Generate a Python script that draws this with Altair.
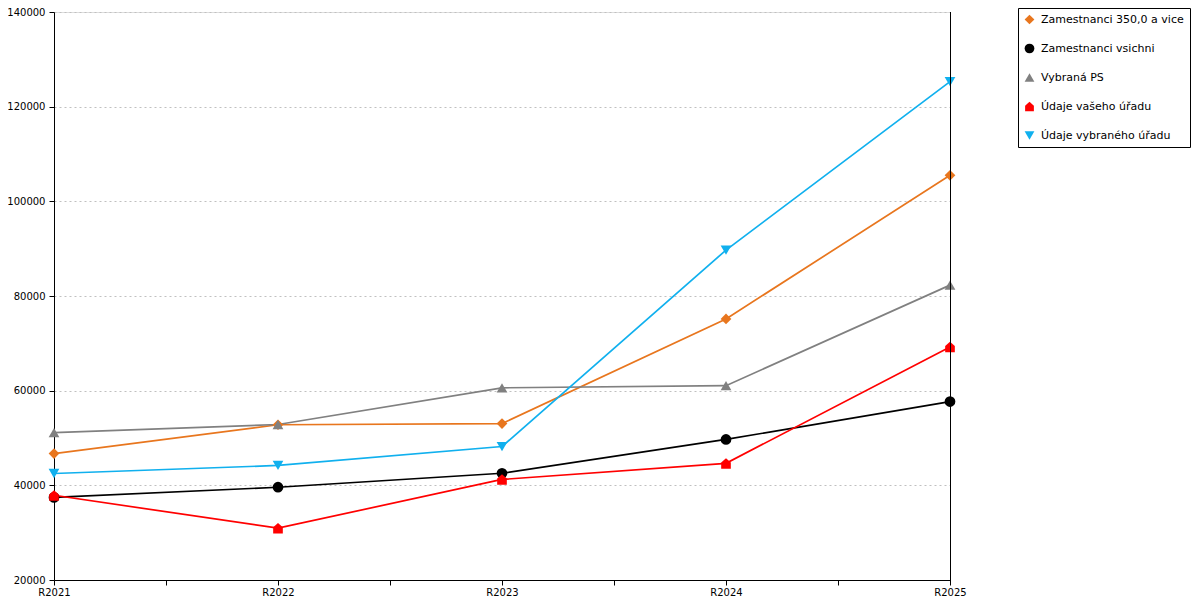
import json
import altair as alt
import pandas as pd

years = ["R2021", "R2022", "R2023", "R2024", "R2025"]
series = [
    "Zamestnanci 350,0 a vice",
    "Zamestnanci vsichni",
    "Vybraná PS",
    "Údaje vašeho úřadu",
    "Údaje vybraného úřadu",
]
v_350 = [46700, 52800, 53050, 75150, 105500]
v_vsichni = [37450, 39600, 42550, 49700, 57700]
v_ps = [51150, 52850, 60600, 61050, 82300]
v_vas = [37900, 30950, 41250, 44650, 69250]
v_vyb = [42500, 44200, 48200, 89700, 125300]

colors = ["#E8761E", "#000000", "#808080", "#FF0000", "#10B0EE"]
HOUSE = "M-0.9,1L0.9,1L0.9,-0.15L0,-0.95L-0.9,-0.15Z"
shapes = ["diamond", "circle", "triangle-up", HOUSE, "triangle-down"]

all_vals = [v_350, v_vsichni, v_ps, v_vas, v_vyb]
rows = []
for s, vals in zip(series, all_vals):
    for y, v in zip(years, vals):
        rows.append({"year": y, "series": s, "value": v})
df = pd.DataFrame(rows)

years_js = json.dumps(years)
xticks = [i * 0.5 for i in range(2 * (len(years) - 1) + 1)]

base = alt.Chart(df).transform_calculate(
    idx=f"indexof({years_js}, datum.year)"
)

x_enc = alt.X(
    "idx:Q",
    scale=alt.Scale(domain=[0, len(years) - 1], nice=False, zero=False),
    axis=alt.Axis(
        values=xticks,
        labelExpr=f"datum.value % 1 == 0 ? {years_js}[datum.value] : ''",
        title=None,
        grid=False,
        tickSize=5,
        labelPadding=2,
        labelFlush=False,
        labelFont="DejaVu Sans",
        labelFontSize=10,
        labelColor="#000000",
        domainColor="#000000",
        tickColor="#000000",
        labelOverlap=False,
    ),
)
y_enc = alt.Y(
    "value:Q",
    scale=alt.Scale(domain=[20000, 140000], nice=False, zero=False),
    axis=alt.Axis(
        values=list(range(20000, 140001, 20000)),
        format="d",
        title=None,
        grid=True,
        gridColor="#c0c0c0",
        gridDash=[2, 3],
        gridWidth=1,
        tickSize=5,
        labelPadding=4,
        labelFont="DejaVu Sans",
        labelFontSize=10,
        labelColor="#000000",
        domainColor="#000000",
        tickColor="#000000",
    ),
)
color_enc = alt.Color(
    "series:N",
    scale=alt.Scale(domain=series, range=colors),
    legend=alt.Legend(
        title=None,
        orient="none",
        legendX=964,
        legendY=-4,
        strokeColor="#000000",
        padding=6,
        rowPadding=17,
        symbolSize=95,
        symbolStrokeWidth=0,
        labelFont="DejaVu Sans",
        labelFontSize=11,
        labelColor="#000000",
        labelOffset=6,
        labelLimit=300,
    ),
)
shape_enc = alt.Shape(
    "series:N",
    scale=alt.Scale(domain=series, range=shapes),
    legend=None,
)

lines = base.mark_line(strokeWidth=1.7).encode(
    x=x_enc, y=y_enc, color=color_enc,
    order=alt.Order("idx:Q"),
)
points = base.mark_point(filled=True, size=115, opacity=1).encode(
    x=x_enc, y=y_enc, color=color_enc, shape=shape_enc,
)
right_rule = alt.Chart(pd.DataFrame({"x": [len(years) - 1]})).mark_rule(
    color="#000000", strokeWidth=1, xOffset=0.5
).encode(x=alt.X("x:Q"), y=alt.value(0), y2=alt.value(573))

chart = alt.layer(lines, points, right_rule).resolve_scale(
    x="shared"
).properties(
    width=896,
    height=568,
    autosize=alt.AutoSizeParams(type="none"),
    padding={"left": 46, "top": 4, "right": 242, "bottom": 20},
).configure_view(stroke=None).configure(background="#ffffff")

chart.save("out.html", embed_options={"renderer": "svg", "actions": False})
